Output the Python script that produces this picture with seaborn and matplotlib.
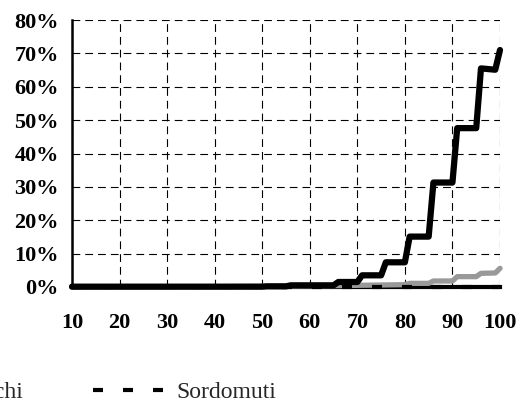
import matplotlib
matplotlib.use("Agg")
import matplotlib.pyplot as plt
import seaborn as sns
import pandas as pd
from matplotlib.ticker import PercentFormatter

# ---- data (age, share %) ----
series_names = ["Invalidi civili", "Ciechi", "Sordomuti"]

ages_inv = [10, 50, 51, 55, 56, 65, 66, 70, 71, 75, 76, 80, 81, 85, 86, 90, 91, 95, 96, 99, 100]
vals_inv = [0.1, 0.1, 0.2, 0.2, 0.5, 0.5, 1.5, 1.5, 3.5, 3.5, 7.4, 7.4, 15.1, 15.1,
            31.3, 31.3, 47.6, 47.6, 65.5, 65.1, 71.0]

ages_cie = [10, 40, 60, 80, 81, 85, 86, 90, 91, 95, 96, 99, 100]
vals_cie = [0.0, 0.1, 0.3, 0.7, 1.1, 1.1, 1.8, 1.8, 3.1, 3.1, 4.1, 4.2, 5.6]

ages_sor = [10, 100]
vals_sor = [0.0, 0.0]

x_ticks = [10, 20, 30, 40, 50, 60, 70, 80, 90, 100]
y_ticks = [0, 10, 20, 30, 40, 50, 60, 70, 80]

df_inv = pd.DataFrame({"eta": ages_inv, "quota": vals_inv})
df_cie = pd.DataFrame({"eta": ages_cie, "quota": vals_cie})
df_sor = pd.DataFrame({"eta": ages_sor, "quota": vals_sor})

sns.set_style("white")
plt.rcParams["font.family"] = ["Liberation Serif", "DejaVu Serif"]

fig = plt.figure(figsize=(5.19, 4.03), dpi=100)
ax = fig.add_axes([72 / 519, (403 - 287) / 403, 428 / 519, 267 / 403])

sns.lineplot(data=df_cie, x="eta", y="quota", ax=ax, color="#999999", lw=3.8,
             label=series_names[1], zorder=3, solid_joinstyle="round", solid_capstyle="round")
sns.lineplot(data=df_inv, x="eta", y="quota", ax=ax, color="black", lw=4.5,
             label=series_names[0], zorder=4, solid_joinstyle="round", solid_capstyle="round")
sns.lineplot(data=df_sor, x="eta", y="quota", ax=ax, color="black", lw=3.0,
             label=series_names[2], zorder=5, linestyle=(0, (2.4, 4.8)))

for ln in ax.get_lines():
    ln.set_clip_on(False)

ax.set_xlim(10, 100)
ax.set_ylim(0, 80)
ax.set_xticks(x_ticks)
ax.set_yticks(y_ticks)
ax.yaxis.set_major_formatter(PercentFormatter(decimals=0))
ax.set_xlabel("")
ax.set_ylabel("")

ax.grid(True, color="black", lw=0.8, linestyle=(0, (7, 4.5)))
ax.set_axisbelow(True)
for s in ["top", "right"]:
    ax.spines[s].set_visible(False)
ax.spines["left"].set_linewidth(1.8)
ax.spines["left"].set_color("black")
ax.spines["bottom"].set_linewidth(3.0)
ax.spines["bottom"].set_color("black")

ax.tick_params(axis="both", direction="inout", length=11, width=1.8, color="black",
               labelsize=16, labelcolor="black")
ax.tick_params(axis="y", pad=4)
ax.tick_params(axis="x", pad=13)
for lab in ax.get_xticklabels() + ax.get_yticklabels():
    lab.set_fontweight("bold")

handles, labels = ax.get_legend_handles_labels()
order = [labels.index(n) for n in series_names]
ax.legend([handles[i] for i in order], [labels[i] for i in order],
          loc="center right", bbox_to_anchor=(276 / 519, 11 / 403),
          bbox_transform=fig.transFigure, ncol=3, frameon=False,
          fontsize=17, handlelength=3.0, handletextpad=0.5, columnspacing=3.0,
          borderpad=0, borderaxespad=0)

fig.savefig("out.png", dpi=100)
